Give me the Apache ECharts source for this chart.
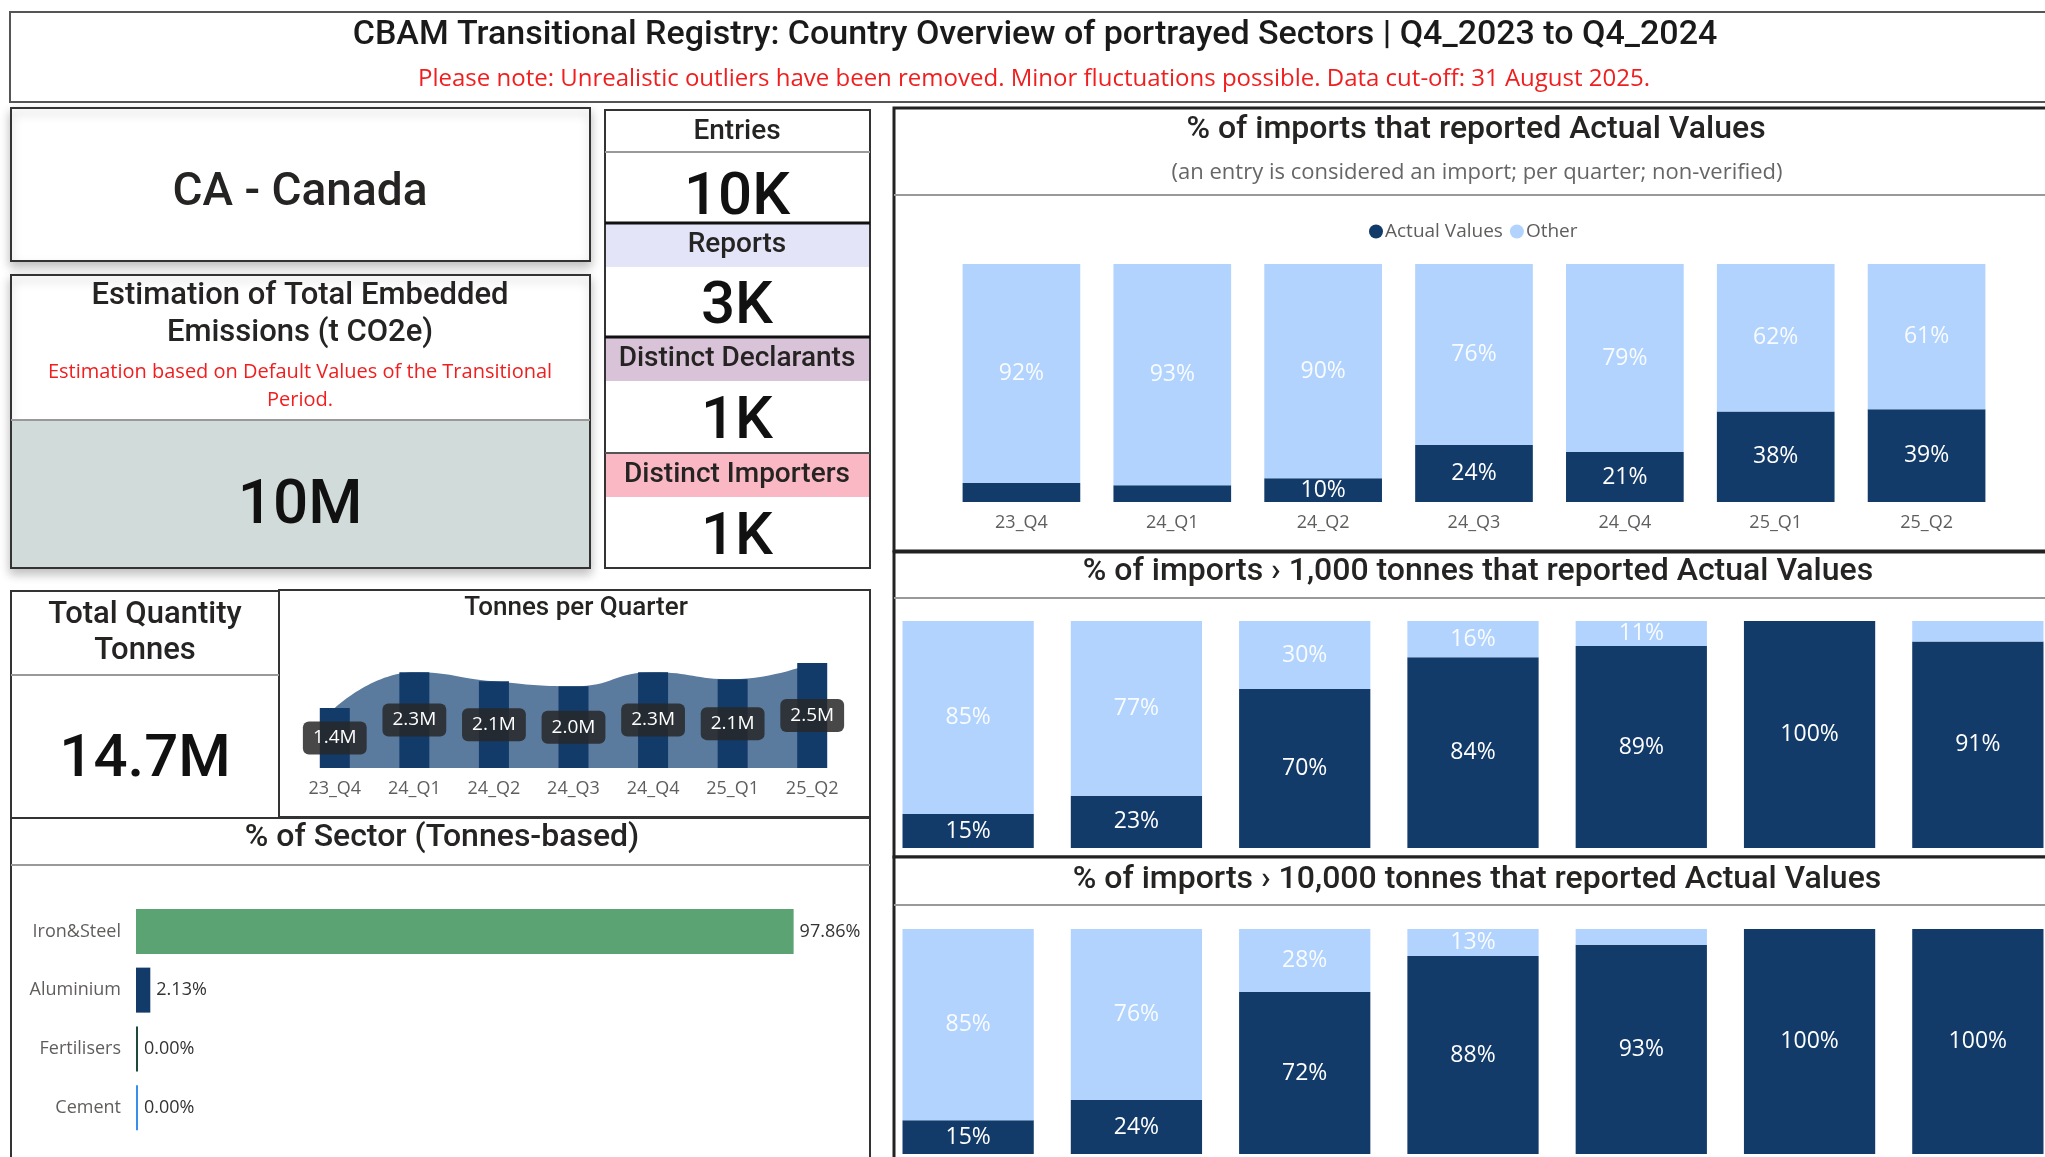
<!DOCTYPE html>
<html>
<head>
<meta charset="utf-8">
<script src="https://cdn.jsdelivr.net/npm/echarts@6/dist/echarts.min.js"></script>
<style>
  html, body { margin: 0; padding: 0; background: #fff; overflow: hidden; }
  /* canvas is a bit wider than the window: the lower charts run past the right edge */
  #dash { width: 2080px; height: 1157px; }
</style>
</head>
<body>
<div id="dash"></div>
<script>
// quarters shown on every chart
var quarters = ['23_Q4', '24_Q1', '24_Q2', '24_Q3', '24_Q4', '25_Q1', '25_Q2'];
// tonnes per quarter, millions
var tonnesM = [1.44, 2.30, 2.08, 1.96, 2.30, 2.13, 2.52];
// % of imports with actual values (all / >1,000 t / >10,000 t)
var actualAll = [8, 7, 10, 24, 21, 38, 39];
var otherAll = [92, 93, 90, 76, 79, 62, 61];
var actual1k = [15, 23, 70, 84, 89, 100, 91];
var other1k = [85, 77, 30, 16, 11, 0, 9];
var actual10k = [15, 24, 72, 88, 93, 100, 100];
var other10k = [85, 76, 28, 13, 7, 0, 0];
// sector split
var sectors = ['Iron&Steel', 'Aluminium', 'Fertilisers', 'Cement'];
var sectorPct = [97.86, 2.13, 0.00, 0.00];
var sectorColors = ['#5ba372', '#123b6a', '#1d4a3a', '#3b8ded'];
// cards
var kpiNames = ['Entries', 'Reports', 'Distinct Declarants', 'Distinct Importers'];
var kpiValues = ['10K', '3K', '1K', '1K'];
var kpiFills = ['#ffffff', '#e3e4f8', '#d9c3d9', '#f9b8c3'];

var DIN = 'Roboto, "Noto Sans", sans-serif';
var SEGOE = '"Open Sans", "Noto Sans", sans-serif';
var DARK = '#123b6a', LIGHT = '#b1d3fd', GREY = '#605e5c';

var chart = echarts.init(document.getElementById('dash'));

function box(x, y, w, h, fill, stroke, lw, shadow) {
    var el = {
        type: 'rect', z: 0,
        shape: { x: x, y: y, width: w, height: h },
        style: { fill: fill || '#fff', stroke: stroke || 'none', lineWidth: lw || 0 }
    };
    if (shadow) {
        el.style.shadowBlur = 10;
        el.style.shadowOffsetY = 5;
        el.style.shadowColor = 'rgba(0,0,0,0.25)';
    }
    return el;
}
function hline(x1, x2, y, color, lw) {
    return {
        type: 'line', z: 5,
        shape: { x1: x1, y1: y, x2: x2, y2: y },
        style: { stroke: color, lineWidth: lw }
    };
}
function txt(x, y, s, size, color, font, lh, weight) {
    return {
        type: 'text', z: 10, x: x, y: y,
        style: {
            text: s, fontSize: size, fontFamily: font || DIN, fill: color || '#252423',
            fontWeight: weight || 'normal',
            align: 'center', verticalAlign: 'middle',
            textAlign: 'center', textVerticalAlign: 'middle',
            lineHeight: lh || size * 1.2
        }
    };
}

var g = [];
// header
g.push(box(10, 12, 2100, 90, '#fff', '#555', 2));
g.push(txt(1035, 35, 'CBAM Transitional Registry: Country Overview of portrayed Sectors | Q4_2023 to Q4_2024', 34, '#1a1a1a', DIN, 0, 500));
g.push(txt(1034, 79, 'Please note: Unrealistic outliers have been removed. Minor fluctuations possible. Data cut-off: 31 August 2025.', 24, '#f01e1e', SEGOE));

// country card
g.push(box(11, 108, 579, 153, '#fff', '#333', 2, true));
g.push(txt(300, 193, 'CA - Canada', 46, '#252423', DIN, 0, 500));

// emissions card
g.push(box(11, 275, 579, 293, '#fff', '#333', 2, true));
g.push(box(12, 420, 577, 147, '#d1dbda'));
g.push(hline(11, 590, 420, '#999', 2));
g.push(txt(300, 315, 'Estimation of Total Embedded\nEmissions (t CO2e)', 31, '#252423', DIN, 37, 500));
g.push(txt(300, 386, 'Estimation based on Default Values of the Transitional\nPeriod.', 20, '#f01e1e', SEGOE, 28));
g.push(txt(300, 507, '10M', 62, '#111', DIN, 0, 500));

// KPI stack
g.push(box(605, 110, 265, 458, '#fff', '#333', 2));
var hdrTop = [111, 224, 338, 454];
var valY = [199, 308, 423, 539];
for (var i = 0; i < kpiNames.length; i++) {
    g.push(box(606, hdrTop[i], 263, 43, kpiFills[i]));
    g.push(txt(737, hdrTop[i] + 21, kpiNames[i], 28, '#252423', DIN, 0, 500));
    g.push(txt(737, valY[i], kpiValues[i], 60, '#111', DIN, 0, 500));
}
g.push(hline(605, 870, 152, '#999', 2));
g.push(hline(605, 870, 223, '#111', 3));
g.push(hline(605, 870, 337, '#111', 3));
g.push(hline(605, 870, 453, '#555', 2));

// total quantity card
g.push(box(11, 591, 268, 227, '#fff', '#333', 2));
g.push(hline(11, 279, 675, '#999', 2));
g.push(txt(145, 633, 'Total Quantity\nTonnes', 31, '#252423', DIN, 36, 500));
g.push(txt(145, 761, '14.7M', 60, '#111', DIN, 0, 500));

// tonnes per quarter card
g.push(box(279, 590, 591, 227, '#fff', '#333', 2));
g.push(txt(576, 608, 'Tonnes per Quarter', 26, '#252423', DIN, 0, 500));

// sector card
g.push(box(11, 818, 859, 400, '#fff', '#333', 2));
g.push(hline(11, 870, 865, '#999', 2));
g.push(txt(442, 838, '% of Sector (Tonnes-based)', 32, '#252423', DIN, 0, 500));

// right column cards
g.push(box(894, 108, 1300, 443, '#fff', '#222', 3));
g.push(hline(894, 2080, 195, '#999', 2));
g.push(txt(1476, 130, '% of imports that reported Actual Values', 32, '#252423', DIN, 0, 500));
g.push(txt(1477, 173, '(an entry is considered an import; per quarter; non-verified)', 22, '#666', SEGOE));

g.push(box(894, 552, 1300, 305, '#fff', '#222', 3));
g.push(hline(894, 2080, 598, '#999', 2));
g.push(txt(1478, 572, '% of imports \u203a 1,000 tonnes that reported Actual Values', 32, '#252423', DIN, 0, 500));

g.push(box(894, 857, 1300, 320, '#fff', '#222', 3));
g.push(hline(894, 2080, 905, '#999', 2));
g.push(txt(1477, 880, '% of imports \u203a 10,000 tonnes that reported Actual Values', 32, '#252423', DIN, 0, 500));

function pctLabel(color) {
    return {
        show: true, position: 'inside', color: color, fontSize: 23, fontFamily: SEGOE,
        formatter: function (p) { return p.value >= 10 ? p.value + '%' : ''; }
    };
}
function stackPair(idx, act, oth) {
    return [
        { name: 'Actual Values', type: 'bar', stack: 's' + idx, xAxisIndex: idx, yAxisIndex: idx,
          barWidth: '78%', itemStyle: { color: DARK }, label: pctLabel('#ffffff'), data: act },
        { name: 'Other', type: 'bar', stack: 's' + idx, xAxisIndex: idx, yAxisIndex: idx,
          barWidth: '78%', itemStyle: { color: LIGHT }, label: pctLabel('rgba(255,255,255,0.92)'), data: oth }
    ];
}
var hiddenVal = { type: 'value', min: 0, max: 100, show: false, splitLine: { show: false } };

var option = {
    backgroundColor: '#fff',
    animation: false,
    graphic: { elements: g },
    legend: {
        data: ['Actual Values', 'Other'], icon: 'circle', itemWidth: 14, itemHeight: 14, itemGap: 7,
        left: 1364, top: 217,
        textStyle: { color: GREY, fontSize: 19, fontFamily: SEGOE, padding: [0, 0, 0, -3] }
    },
    grid: [
        { left: 946, top: 264, width: 1056, height: 238 },
        { left: 884, top: 621, width: 1178, height: 227 },
        { left: 884, top: 929, width: 1178, height: 225 },
        { left: 295, top: 643, width: 557, height: 125 },
        { left: 136, top: 902, width: 672, height: 235 }
    ],
    xAxis: [
        { type: 'category', gridIndex: 0, data: quarters, axisLine: { show: false }, axisTick: { show: false },
          axisLabel: { color: GREY, fontSize: 18, fontFamily: SEGOE, margin: 12 } },
        { type: 'category', gridIndex: 1, data: quarters, show: false },
        { type: 'category', gridIndex: 2, data: quarters, show: false },
        { type: 'category', gridIndex: 3, data: quarters, axisLine: { show: false }, axisTick: { show: false },
          axisLabel: { color: GREY, fontSize: 18, fontFamily: SEGOE, margin: 12 } },
        { type: 'value', gridIndex: 4, min: 0, max: 100, show: false, splitLine: { show: false } }
    ],
    yAxis: [
        Object.assign({ gridIndex: 0 }, hiddenVal),
        Object.assign({ gridIndex: 1 }, hiddenVal),
        Object.assign({ gridIndex: 2 }, hiddenVal),
        { type: 'value', gridIndex: 3, min: 0, max: 3, show: false, splitLine: { show: false } },
        { type: 'category', gridIndex: 4, data: sectors, inverse: true,
          axisLine: { show: false }, axisTick: { show: false },
          axisLabel: { color: GREY, fontSize: 18, fontFamily: SEGOE, margin: 15 } }
    ],
    series: [].concat(
        stackPair(0, actualAll, otherAll),
        stackPair(1, actual1k, other1k),
        stackPair(2, actual10k, other10k),
        [
            { name: 'tonnesArea', type: 'line', xAxisIndex: 3, yAxisIndex: 3, smooth: 0.5,
              showSymbol: false, lineStyle: { width: 0 }, z: 1,
              areaStyle: { color: '#5a7b9e', opacity: 1 }, data: tonnesM },
            { name: 'tonnes', type: 'bar', xAxisIndex: 3, yAxisIndex: 3, barWidth: 30, z: 3,
              itemStyle: { color: DARK },
              label: {
                  show: true, position: 'inside', color: '#fff', fontSize: 19, fontFamily: SEGOE,
                  backgroundColor: 'rgba(40,40,40,0.85)', borderRadius: 6, padding: [7, 10],
                  formatter: function (p) { return p.value.toFixed(1) + 'M'; }
              },
              data: tonnesM },
            { name: 'sector', type: 'bar', xAxisIndex: 4, yAxisIndex: 4, barWidth: 45, barMinHeight: 2,
              label: {
                  show: true, position: 'right', distance: 6, color: '#333', fontSize: 18, fontFamily: SEGOE,
                  formatter: function (p) { return p.value.toFixed(2) + '%'; }
              },
              data: sectorPct.map(function (v, k) {
                  return { value: v, itemStyle: { color: sectorColors[k] } };
              }) }
        ]
    )
};

chart.setOption(option);
</script>
</body>
</html>
